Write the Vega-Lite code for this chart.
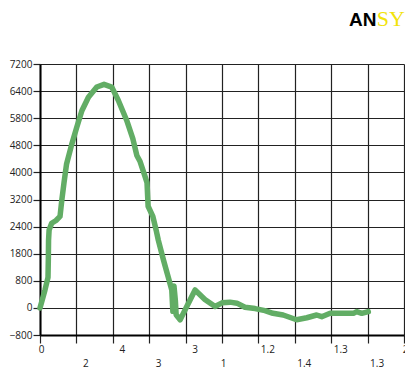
{
  "$schema": "https://vega.github.io/schema/vega-lite/v6.json",
  "width": 364,
  "height": 271,
  "autosize": "none",
  "padding": {"left": 40, "top": 64, "right": 1, "bottom": 33},
  "background": "white",
  "config": {"view": {"stroke": null}, "font": "Open Sans"},
  "resolve": {"axis": {"x": "independent", "y": "independent"}},
  "datasets": {
    "curve": [
      {"i": 0, "x": 0.0, "y": 0},
      {"i": 1, "x": 0.137, "y": 530},
      {"i": 2, "x": 0.22, "y": 900},
      {"i": 3, "x": 0.23, "y": 1500},
      {"i": 4, "x": 0.235, "y": 2000},
      {"i": 5, "x": 0.25, "y": 2300},
      {"i": 6, "x": 0.32, "y": 2500},
      {"i": 7, "x": 0.44, "y": 2580},
      {"i": 8, "x": 0.55, "y": 2700},
      {"i": 9, "x": 0.6, "y": 3190},
      {"i": 10, "x": 0.66, "y": 3700},
      {"i": 11, "x": 0.73, "y": 4250},
      {"i": 12, "x": 0.87, "y": 4820},
      {"i": 13, "x": 1.01, "y": 5330},
      {"i": 14, "x": 1.15, "y": 5820},
      {"i": 15, "x": 1.33, "y": 6220},
      {"i": 16, "x": 1.56, "y": 6520},
      {"i": 17, "x": 1.76, "y": 6600},
      {"i": 18, "x": 1.97, "y": 6520},
      {"i": 19, "x": 2.15, "y": 6130},
      {"i": 20, "x": 2.38, "y": 5540},
      {"i": 21, "x": 2.55, "y": 5000},
      {"i": 22, "x": 2.66, "y": 4500},
      {"i": 23, "x": 2.75, "y": 4320},
      {"i": 24, "x": 2.88, "y": 3900},
      {"i": 25, "x": 2.94, "y": 3700},
      {"i": 26, "x": 2.97, "y": 3000},
      {"i": 27, "x": 3.10, "y": 2700},
      {"i": 28, "x": 3.19, "y": 2300},
      {"i": 29, "x": 3.25, "y": 2000},
      {"i": 30, "x": 3.39, "y": 1420},
      {"i": 31, "x": 3.52, "y": 920},
      {"i": 32, "x": 3.62, "y": 530},
      {"i": 33, "x": 3.65, "y": -100},
      {"i": 34, "x": 3.68, "y": 650},
      {"i": 35, "x": 3.72, "y": 200},
      {"i": 36, "x": 3.74, "y": -200},
      {"i": 37, "x": 3.85, "y": -350},
      {"i": 38, "x": 4.26, "y": 530},
      {"i": 39, "x": 4.53, "y": 250},
      {"i": 40, "x": 4.81, "y": 40},
      {"i": 41, "x": 5.0, "y": 150},
      {"i": 42, "x": 5.22, "y": 170},
      {"i": 43, "x": 5.41, "y": 140},
      {"i": 44, "x": 5.63, "y": 20},
      {"i": 45, "x": 5.91, "y": -20},
      {"i": 46, "x": 6.18, "y": -80},
      {"i": 47, "x": 6.40, "y": -160},
      {"i": 48, "x": 6.68, "y": -210},
      {"i": 49, "x": 7.05, "y": -350},
      {"i": 50, "x": 7.33, "y": -290},
      {"i": 51, "x": 7.60, "y": -210},
      {"i": 52, "x": 7.74, "y": -260},
      {"i": 53, "x": 7.97, "y": -160},
      {"i": 54, "x": 8.24, "y": -160},
      {"i": 55, "x": 8.61, "y": -160},
      {"i": 56, "x": 8.70, "y": -110},
      {"i": 57, "x": 8.84, "y": -160},
      {"i": 58, "x": 9.02, "y": -110}
    ]
  },
  "layer": [
    {
      "data": {"name": "curve"},
      "mark": {"type": "line", "color": "#62ad65", "strokeWidth": 5.5, "strokeCap": "round", "strokeJoin": "round"},
      "encoding": {
        "x": {
          "field": "x", "type": "quantitative",
          "scale": {"domain": [0, 10], "nice": false, "zero": false},
          "axis": {
            "title": null,
            "values": [0, 1, 2, 3, 4, 5, 6, 7, 8, 9, 10],
            "labelExpr": "(datum.value % 2 == 1) ? ['', ['0','2','4','3','3','1','1.2','1.4','1.3','1.3','2'][datum.value]] : ['0','2','4','3','3','1','1.2','1.4','1.3','1.3','2'][datum.value]",
            "labelLineHeight": 14,
            "labelFontSize": 10,
            "labelColor": "#222",
            "labelPadding": 1,
            "labelBaseline": "top",
            "labelOffset": {"condition": {"test": "datum.value == 0 || datum.value == 5 || datum.value == 10", "value": 1}, "value": 9},
            "labelOverlap": false,
            "labelFlush": false,
            "tickSize": 8,
            "tickColor": "#222",
            "tickWidth": 1.2,
            "domainColor": "#000",
            "domainWidth": 2,
            "grid": true,
            "gridColor": "#222",
            "gridWidth": 1.2,
            "gridOpacity": 1
          }
        },
        "y": {
          "field": "y", "type": "quantitative",
          "scale": {"domain": [-800, 7200], "nice": false, "zero": false},
          "axis": {
            "title": null,
            "values": [-800, 0, 800, 1600, 2400, 3200, 4000, 4800, 5600, 6400, 7200],
            "format": "d",
            "labelExpr": "datum.value == 5600 ? '5800' : datum.value == 1600 ? '1800' : datum.label",
            "labelFontSize": 10,
            "labelColor": "#222",
            "labelPadding": 1,
            "labelOverlap": false,
            "labelFlush": false,
            "tickSize": 7,
            "tickColor": "#222",
            "tickWidth": 1.2,
            "domainColor": "#000",
            "domainWidth": 2,
            "grid": true,
            "gridColor": "#222",
            "gridWidth": 1.2,
            "gridOpacity": 1
          }
        },
        "order": {"field": "i", "type": "quantitative"}
      }
    },
    {
      "data": {"values": [{"t": "AN", "x": 8.49, "y": 8322}]},
      "mark": {"type": "text", "align": "left", "baseline": "alphabetic", "font": "Liberation Sans", "fontWeight": "bold", "fontSize": 19, "color": "#000"},
      "encoding": {
        "x": {"field": "x", "type": "quantitative", "axis": null},
        "y": {"field": "y", "type": "quantitative", "axis": null},
        "text": {"field": "t"}
      }
    },
    {
      "data": {"values": [{"t": "SY", "x": 9.25, "y": 8322}]},
      "mark": {"type": "text", "align": "left", "baseline": "alphabetic", "font": "Liberation Serif", "fontSize": 22, "color": "#f2e30a"},
      "encoding": {
        "x": {"field": "x", "type": "quantitative", "axis": null},
        "y": {"field": "y", "type": "quantitative", "axis": null},
        "text": {"field": "t"}
      }
    }
  ]
}
